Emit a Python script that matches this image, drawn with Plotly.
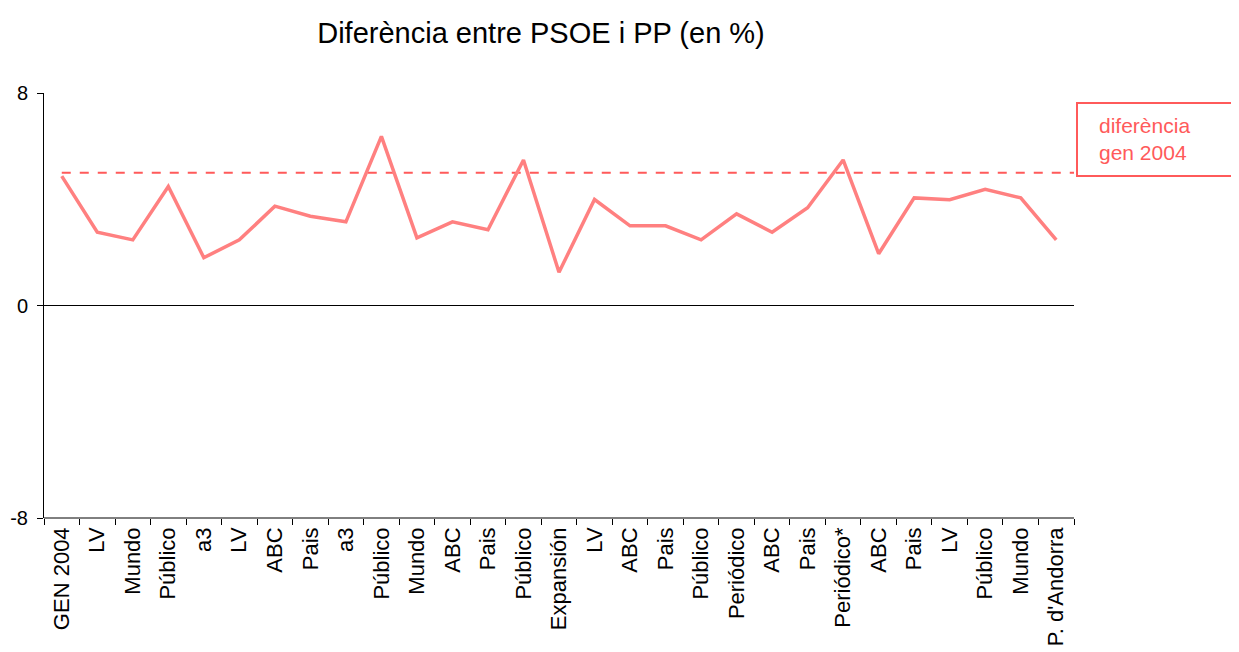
import plotly.graph_objects as go

categories = ["GEN 2004", "LV", "Mundo", "Público", "a3", "LV", "ABC", "Pais", "a3",
              "Público", "Mundo", "ABC", "Pais", "Público", "Expansión", "LV", "ABC",
              "Pais", "Público", "Periódico", "ABC", "Pais", "Periódico*", "ABC", "Pais",
              "LV", "Público", "Mundo", "P. d'Andorra"]
diff_values = [4.87, 2.76, 2.47, 4.48, 1.80, 2.47, 3.74, 3.36, 3.15,
               6.37, 2.55, 3.15, 2.85, 5.48, 1.25, 3.99, 3.00,
               3.00, 2.47, 3.45, 2.76, 3.68, 5.48, 1.95, 4.05,
               3.98, 4.37, 4.05, 2.47]
gen2004_diff = 5.0
y_ticks = [-8, 0, 8]
y_tick_labels = ["-8", "0", "8"]

FONT = "Liberation Sans, Arial, sans-serif"
OFF = 8  # page body margin
W, H = 1239, 652
L, R, T, B = 44, 1074, 93, 518

xs = list(range(len(categories)))

fig = go.Figure()
fig.add_trace(go.Scatter(
    x=[0, len(categories) - 0.5], y=[gen2004_diff, gen2004_diff],
    mode="lines", line=dict(color="#FF5A5A", width=2, dash="dash"),
    showlegend=False, hoverinfo="skip"))
fig.add_trace(go.Scatter(
    x=xs, y=diff_values, mode="lines",
    line=dict(color="#FF8080", width=3.5),
    showlegend=False))

fig.update_layout(
    width=W - OFF, height=H - OFF,
    margin=dict(l=L - OFF, r=W - R, t=T - OFF, b=H - B, pad=0, autoexpand=False),
    paper_bgcolor="white", plot_bgcolor="white",
    font=dict(family=FONT, color="black", size=20),
    title=dict(text="Diferència entre PSOE i PP (en %)",
               x=(541 - L) / (R - L), xref="paper", xanchor="center",
               y=1 - (33 - OFF) / (H - OFF), yanchor="middle",
               font=dict(family=FONT, size=29, color="black")),
    showlegend=False,
)

fig.update_xaxes(
    range=[-0.5, len(categories) - 0.5], automargin=False,
    tickmode="array", tickvals=xs, ticktext=categories,
    tickangle=-90, ticks="", showgrid=False, zeroline=False,
    showline=False,
    tickfont=dict(family=FONT, size=22, color="black"),
    ticklabelstandoff=4,
    minor=dict(ticks="outside", tick0=0.5, dtick=1, ticklen=6,
               tickcolor="black", tickwidth=1, showgrid=False),
)
fig.update_yaxes(
    range=[-8, 8], tickmode="array", tickvals=y_ticks, ticktext=y_tick_labels,
    automargin=False,
    ticks="outside", ticklen=6, tickcolor="black", tickwidth=1,
    showline=True, linecolor="black", linewidth=1,
    showgrid=False, zeroline=True, zerolinecolor="black", zerolinewidth=1,
    tickfont=dict(family=FONT, size=20, color="black"),
    ticklabelstandoff=5,
)

# bottom axis line at y=-8 (category axis crosses at minimum)
fig.add_shape(type="line", xref="paper", yref="paper", x0=0, x1=1, y0=0, y1=0,
              line=dict(color="black", width=1))

# legend-like box
fig.add_shape(type="rect", xref="paper", yref="paper",
              x0=(1077 - L) / (R - L), x1=(1260 - L) / (R - L),
              y0=(B - 176) / (B - T), y1=(B - 103) / (B - T),
              line=dict(color="#FF5A5A", width=2), fillcolor="rgba(0,0,0,0)")
fig.add_annotation(xref="paper", yref="paper",
                   x=(1097 - L) / (R - L), y=(B - 139) / (B - T),
                   xanchor="left", yanchor="middle", align="left",
                   text="diferència<br>gen 2004", showarrow=False,
                   font=dict(family=FONT, size=21, color="#FF5A5A"))

fig.write_html("out.html")
